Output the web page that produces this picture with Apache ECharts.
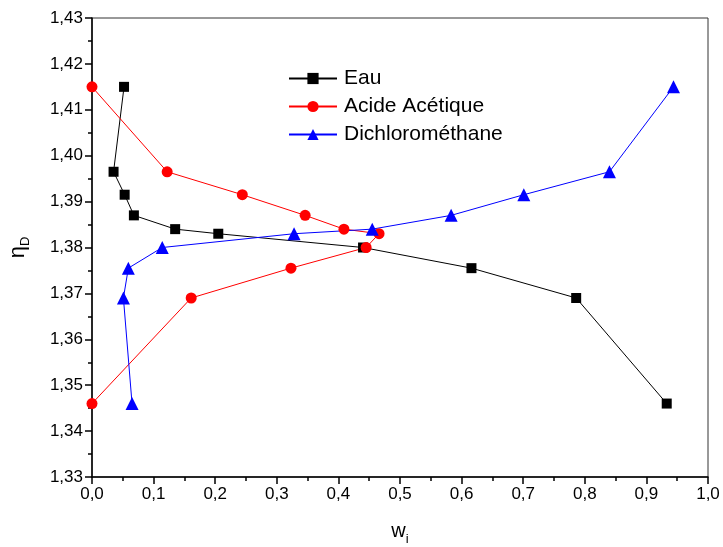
<!DOCTYPE html>
<html>
<head>
<meta charset="utf-8">
<script src="https://cdn.jsdelivr.net/npm/echarts@6/dist/echarts.min.js"></script>
<style>
  html, body { margin: 0; padding: 0; background: #fff; }
  #chart { width: 723px; height: 547px; }
</style>
</head>
<body>
<div id="chart"></div>
<script>
// values
var eauX = [0.052, 0.035, 0.053, 0.068, 0.135, 0.205, 0.44, 0.616, 0.786, 0.933]
var eauY = [1.415, 1.3965, 1.3915, 1.387, 1.384, 1.383, 1.380, 1.3755, 1.369, 1.346]

var acideX = [0.0, 0.122, 0.244, 0.346, 0.409, 0.466, 0.445, 0.323, 0.161, 0.0]
var acideY = [1.415, 1.3965, 1.3915, 1.387, 1.384, 1.383, 1.380, 1.3755, 1.369, 1.346]

var dichloX = [0.065, 0.051, 0.059, 0.114, 0.328, 0.455, 0.583, 0.701, 0.840, 0.944]
var dichloY = [1.346, 1.369, 1.3755, 1.380, 1.383, 1.384, 1.387, 1.3915, 1.3965, 1.415]

var names = ['Eau', 'Acide Acétique', 'Dichlorométhane']

function pairs(xs, ys) {
  return xs.map(function (x, i) { return [x, ys[i]] })
}

var font = '"Liberation Sans", Arial, sans-serif'
var chart = echarts.init(document.getElementById('chart'))

function mkSeries(name, data, color, symbol, size) {
  return {
    name: name,
    type: 'line',
    data: data,
    symbol: symbol,
    symbolSize: size,
    showAllSymbol: true,
    itemStyle: { color: color },
    lineStyle: { color: color, width: 1 },
    animation: false
  }
}

var option = {
  backgroundColor: '#fff',
  grid: {
    left: 92,
    right: 15,
    top: 18,
    bottom: 70,
    outerBoundsMode: 'none',
    show: true,
    borderColor: '#333',
    borderWidth: 1
  },
  legend: {
    data: names,
    orient: 'vertical',
    left: 283,
    top: 63,
    itemWidth: 48,
    itemHeight: 14,
    itemGap: 7,
    textStyle: { fontFamily: font, fontSize: 21, color: '#000', padding: [0, 0, 0, 2] }
  },
  xAxis: {
    type: 'value',
    min: 0,
    max: 1,
    interval: 0.1,
    name: '{a|w}{b|i}',
    nameLocation: 'middle',
    nameGap: 40,
    nameTextStyle: {
      rich: {
        a: { fontFamily: font, fontSize: 20, color: '#000' },
        b: { fontFamily: font, fontSize: 13, color: '#000', padding: [16, 0, 0, 0] }
      }
    },
    axisLine: { onZero: false, lineStyle: { color: '#000', width: 1.5 } },
    axisTick: { inside: false, length: 7, lineStyle: { color: '#000', width: 1.5 } },
    minorTick: { show: true, splitNumber: 2, length: 4, lineStyle: { color: '#000', width: 1.5 } },
    splitLine: { show: false },
    axisLabel: {
      margin: 9,
      fontFamily: font,
      fontSize: 17,
      color: '#000',
      formatter: function (v) { return v.toFixed(1).replace('.', ',') }
    }
  },
  yAxis: {
    type: 'value',
    min: 1.33,
    max: 1.43,
    interval: 0.01,
    name: '{a|η}{b|D}',
    nameLocation: 'middle',
    nameRotate: 90,
    nameGap: 60,
    nameTextStyle: {
      rich: {
        a: { fontFamily: font, fontSize: 22, color: '#000' },
        b: { fontFamily: font, fontSize: 13, color: '#000', padding: [16, 0, 0, 0] }
      }
    },
    axisLine: { onZero: false, lineStyle: { color: '#000', width: 1.5 } },
    axisTick: { inside: false, length: 7, lineStyle: { color: '#000', width: 1.5 } },
    minorTick: { show: true, splitNumber: 2, length: 4, lineStyle: { color: '#000', width: 1.5 } },
    splitLine: { show: false },
    axisLabel: {
      margin: 9,
      fontFamily: font,
      fontSize: 17,
      color: '#000',
      formatter: function (v) { return v.toFixed(2).replace('.', ',') }
    }
  },
  series: [
    mkSeries(names[0], pairs(eauX, eauY), '#000000', 'rect', 10),
    mkSeries(names[1], pairs(acideX, acideY), '#ff0000', 'circle', 11),
    mkSeries(names[2], pairs(dichloX, dichloY), '#0000ff', 'triangle', 13)
  ]
}

chart.setOption(option)
</script>
</body>
</html>
